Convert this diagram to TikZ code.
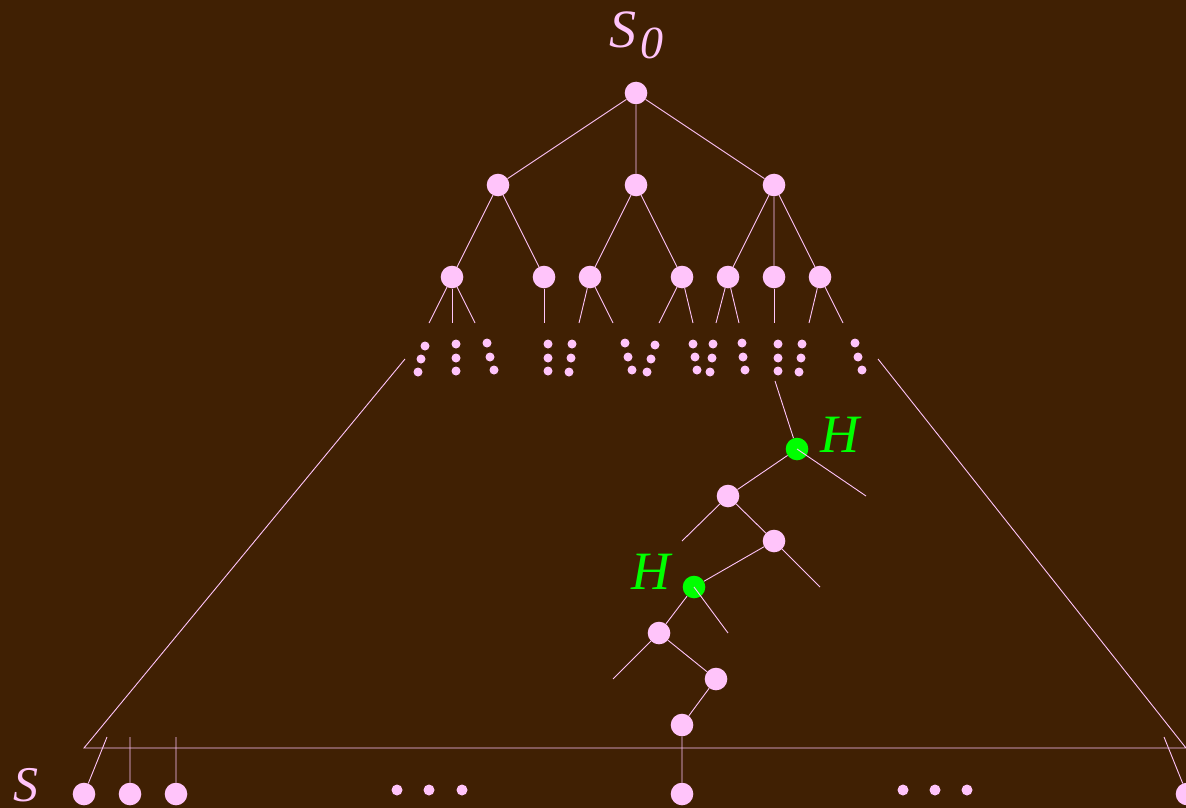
\documentclass[tikz,border=0pt]{standalone}
\usepackage{fontspec}
\setmainfont{Liberation Serif}
\definecolor{bg}{RGB}{64,32,3}
\definecolor{pk}{RGB}{255,196,250}
\definecolor{gr}{RGB}{0,255,0}
\begin{document}
\begin{tikzpicture}[x=1pt,y=-1pt,
  big/.style={circle,fill=pk,inner sep=0pt,minimum size=22.6pt},
  grn/.style={circle,fill=gr,inner sep=0pt,minimum size=22.6pt},
  sdot/.style={circle,fill=pk,inner sep=0pt,minimum size=9pt},
  edot/.style={circle,fill=pk,inner sep=0pt,minimum size=11pt},
  ln/.style={draw=pk,line width=0.9pt},
  lab/.style={inner sep=0pt,anchor=base west,font=\fontsize{54}{60}\selectfont\itshape}]
\fill[bg] (0,0) rectangle (1186,808);
\useasboundingbox (0,0) rectangle (1186,808);
% labels
\node[lab,text=pk] (s0) at (609,48) {S};
\node[lab,text=pk,font=\fontsize{46}{50}\selectfont\itshape] (sub0) at (640,59) {0};
\node[lab,text=pk,font=\fontsize{50}{56}\selectfont\itshape] (sbot) at (13,801) {S};
\node[lab,text=gr] (h1) at (820,452) {H};
\node[lab,text=gr] (h2) at (631,589) {H};
% top tree
\node[big] (r) at (636,93) {};
\node[big] (a1) at (498,185) {};
\node[big] (a2) at (636,185) {};
\node[big] (a3) at (774,185) {};
\node[big] (b1) at (452,277) {};
\node[big] (b2) at (544,277) {};
\node[big] (b3) at (590,277) {};
\node[big] (b4) at (682,277) {};
\node[big] (b5) at (728,277) {};
\node[big] (b6) at (774,277) {};
\node[big] (b7) at (820,277) {};
\draw[ln] (r) -- (a1) (r) -- (a2) (r) -- (a3);
\draw[ln] (a1) -- (b1) (a1) -- (b2) (a2) -- (b3) (a2) -- (b4)
  (a3) -- (b5) (a3) -- (b6) (a3) -- (b7);
% stubs
\foreach \n/\x in {b1/429,b1/452,b1/475,b2/544,b3/579,b3/613,b4/659,b4/693,b5/716,b5/739,b6/774,b7/809,b7/843}{
  \coordinate (t) at (\x,323);
  \draw[ln] (\n) -- (t);
}
% small dots
\foreach \x/\y [count=\i] in {425/346,421/359,418/372, 456/344,456/358,456/371, 487/343,490/357,494/370,
  548/344,548/358,548/371, 572/344,571/358,569/372, 625/343,628/357,632/370,
  655/345,651/359,647/372, 693/344,695/357,697/370, 713/344,712/358,710/372,
  742/343,743/357,745/370, 778/344,778/358,778/371, 802/344,801/358,799/372,
  855/343,858/357,862/370}{
  \node[sdot] (d\i) at (\x,\y) {};
}
% big triangle
\coordinate (tl) at (405,359);
\coordinate (bl) at (84,748);
\coordinate (tr) at (878,359);
\coordinate (br) at (1186,748);
\draw[ln] (tl) -- (bl) -- (br) -- (tr);
% path
\coordinate (p0) at (775,381);
\node[grn] (g1) at (797,449) {};
\node[big] (c1) at (728,496) {};
\node[big] (c2) at (774,541) {};
\node[grn] (g2) at (694,587) {};
\node[big] (c3) at (659,633) {};
\node[big] (c4) at (716,679) {};
\node[big] (c5) at (682,725) {};
\node[big] (z) at (682,794) {};
\draw[ln] (p0) -- (g1) -- (c1) -- (c2) -- (g2) -- (c3) -- (c4) -- (c5) -- (z);
\coordinate (s1) at (866,496);
\coordinate (s2) at (682,541);
\coordinate (s3) at (820,587);
\coordinate (s4) at (728,633);
\coordinate (s5) at (613,679);
\draw[ln] (g1.center) -- (s1);
\draw[ln] (c1) -- (s2);
\draw[ln] (c2) -- (s3);
\draw[ln] (g2.center) -- (s4);
\draw[ln] (c3) -- (s5);
% bottom row
\node[big] (z1) at (84,794) {};
\node[big] (z2) at (130,794) {};
\node[big] (z3) at (176,794) {};
\node[big] (z4) at (1187,794) {};
\coordinate (u1) at (107,737);
\coordinate (u2) at (130,737);
\coordinate (u3) at (176,737);
\coordinate (u4) at (1164,737);
\draw[ln] (u1) -- (z1) (u2) -- (z2) (u3) -- (z3) (u4) -- (z4);
\node[edot] (e1) at (397,790) {};
\node[edot] (e2) at (429,790) {};
\node[edot] (e3) at (462,790) {};
\node[edot] (e4) at (903,790) {};
\node[edot] (e5) at (935,790) {};
\node[edot] (e6) at (967,790) {};
\end{tikzpicture}
\end{document}
